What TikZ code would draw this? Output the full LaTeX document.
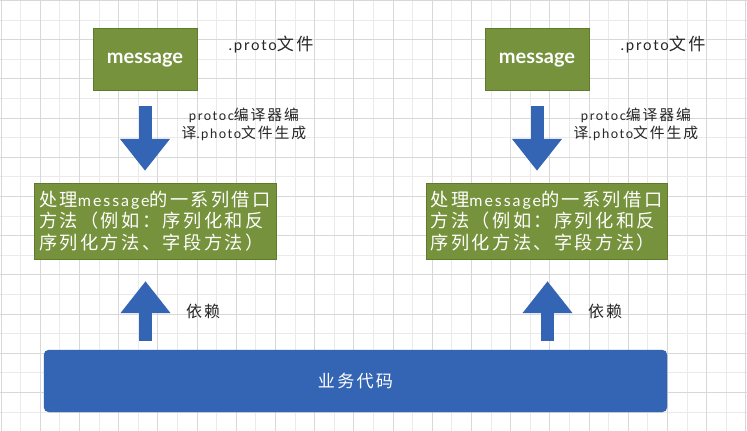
\documentclass[tikz,border=0pt]{standalone}
\usepackage{fontspec}
\setmainfont[LetterSpace=12]{Lato}
\newfontfamily\cjk[LetterSpace=13, Scale=1.14]{Noto Sans CJK SC}
\newcommand{\zh}[1]{{\cjk #1}}
\usetikzlibrary{arrows.meta,positioning}
\definecolor{leafgreen}{HTML}{76923C}
\definecolor{leafdark}{HTML}{5E7A2A}
\definecolor{bizblue}{HTML}{3465B4}
\definecolor{bizdark}{HTML}{2E5A9E}
\definecolor{gridlight}{HTML}{EAEAEA}
\definecolor{griddark}{HTML}{D8D8D8}

\begin{document}
\begin{tikzpicture}[x=1pt, y=-1pt,
  msgbox/.style={draw=leafdark, fill=leafgreen, text=white, minimum width=104pt, minimum height=62pt, inner sep=0pt,
    text height=9pt, text depth=0pt, font=\fontsize{20}{24}\selectfont\bfseries\addfontfeature{LetterSpace=0}},
  apibox/.style={draw=leafdark, fill=leafgreen, text=white, minimum width=242pt, minimum height=76pt, inner sep=0pt,
    align=left, font=\fontsize{16}{21.5}\selectfont},
  label/.style={text=black!85, align=center},
  blockarrow/.style={draw=bizblue, line width=13pt, -{Triangle[width=48pt, length=32pt]}}]
\useasboundingbox (0,0) rectangle (747,431);
\fill[white] (0,0) rectangle (747,431);
% grid
\foreach \k in {1,3,...,37} \draw[gridlight, line width=1pt] (1+19.6*\k,0) -- (1+19.6*\k,431);
\foreach \k in {1,3,...,21} \draw[gridlight, line width=1pt] (0,0.5+19.6*\k) -- (747,0.5+19.6*\k);
\foreach \k in {0,2,...,38} \draw[griddark, line width=1pt] (1+19.6*\k,0) -- (1+19.6*\k,431);
\foreach \k in {0,2,...,20} \draw[griddark, line width=1pt] (0,0.5+19.6*\k) -- (747,0.5+19.6*\k);

% left side
\node[msgbox] (msgA) at (145,59) {message};
\node[label, font=\fontsize{15}{18}\selectfont] (protoA) at (271,45) {.proto\zh{文件}};
\node[apibox] (apiA) at (155,221) {\zh{处理}message\zh{的一系列借口}\\\zh{方法（例如：序列化和反}\\\zh{序列化方法、字段方法）}};
\node[label, font=\fontsize{13}{18}\selectfont] (compA) at (244,124) {protoc\zh{编译器编}\\\zh{译}.photo\zh{文件生成}};
\node[label, font=\fontsize{14}{18}\selectfont] (depA) at (203,311) {\zh{依赖}};

% right side
\node[msgbox] (msgB) at (537,59) {message};
\node[label, font=\fontsize{15}{18}\selectfont] (protoB) at (663,45) {.proto\zh{文件}};
\node[apibox, minimum width=241pt] (apiB) at (546.5,221) {\zh{处理}message\zh{的一系列借口}\\\zh{方法（例如：序列化和反}\\\zh{序列化方法、字段方法）}};
\node[label, font=\fontsize{13}{18}\selectfont] (compB) at (636,124) {protoc\zh{编译器编}\\\zh{译}.photo\zh{文件生成}};
\node[label, font=\fontsize{14}{18}\selectfont] (depB) at (605,311) {\zh{依赖}};

% business code
\node[draw=bizdark, fill=bizblue, rounded corners=5pt, minimum width=623pt, minimum height=62pt, text=white,
  font=\fontsize{15}{18}\selectfont] (biz) at (355.5,381) {\zh{业务代码}};
\coordinate (upA) at (145.5,350);
\coordinate (upB) at (547.5,350);

% arrows
\draw[blockarrow, shorten <=16pt, shorten >=12pt] (msgA.south) -- (msgA.south |- apiA.north);
\draw[blockarrow, shorten <=16pt, shorten >=12pt] (msgB.south) -- (msgB.south |- apiB.north);
\draw[blockarrow, shorten <=9pt, shorten >=22pt] (upA) -- (upA |- apiA.south);
\draw[blockarrow, shorten <=9pt, shorten >=22pt] (upB) -- (upB |- apiB.south);
\end{tikzpicture}
\end{document}
